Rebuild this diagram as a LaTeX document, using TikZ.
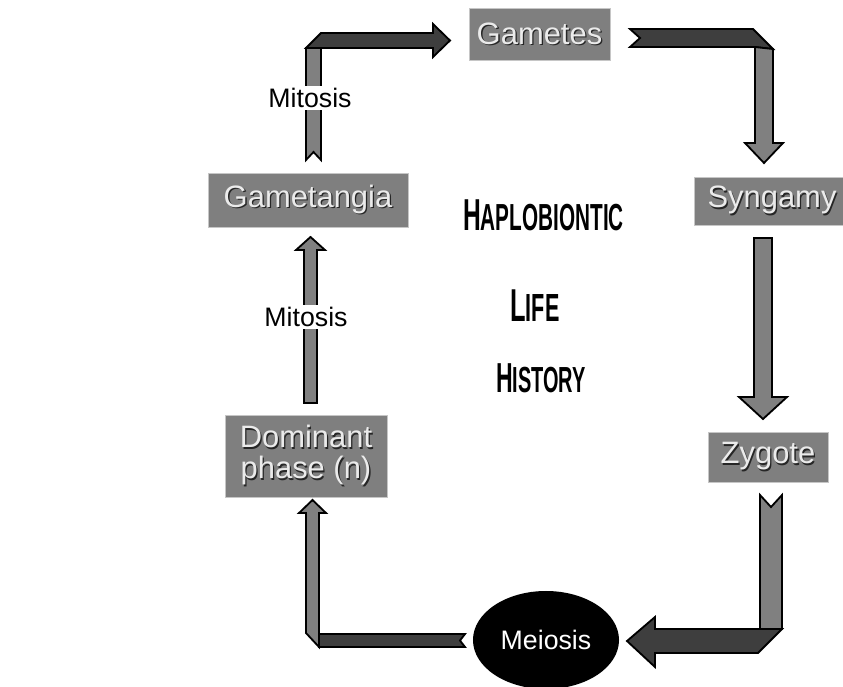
\documentclass[tikz,border=0pt]{standalone}
\usepackage{fontspec}
\setmainfont{Liberation Sans}
\usepackage{graphicx}
\usetikzlibrary{shapes.geometric}
\definecolor{Osc}{RGB}{62,62,62}
\definecolor{Med}{RGB}{128,128,128}
\definecolor{Caja}{RGB}{127,127,127}
% texto con relieve
\newcommand{\relieve}[1]{\leavevmode\rlap{\raisebox{-0.9pt}{\kern0.9pt\textcolor{black!85}{#1}}}\textcolor{white!92!black}{#1}}
% versalitas angostas
\newcommand{\titsc}[4]{\scalebox{0.55}[1]{\bfseries\fontsize{#1}{#1}\selectfont #3\fontsize{#2}{#2}\selectfont #4}}

\begin{document}
\begin{tikzpicture}[x=0.025cm,y=-0.025cm,
    caja/.style={fill=Caja,draw=gray!45,line width=0.5pt,inner sep=0pt,font=\fontsize{22}{22}\selectfont},
    cinta/.style={draw=black,line width=1.3pt,line join=miter},
    rotulo/.style={fill=white,inner sep=1.5pt,font=\fontsize{19}{19}\selectfont}]
    \useasboundingbox (0,0) rectangle (843,686);

    %Flecha Gametangia -> Gametes
    \fill[Med,cinta] (306,160) -- (306,48) -- (321,48) -- (321,160) -- (313.5,152) -- cycle;
    \fill[Osc,cinta] (306,48) -- (321,33) -- (433,33) -- (433,24) -- (450,40.5) -- (433,57) -- (433,48) -- cycle;

    %Flecha Gametes -> Syngamy
    \fill[Osc,cinta] (630,29) -- (753,29) -- (773,49) -- (755,47) -- (630,47) -- (640,38) -- cycle;
    \fill[Med,cinta] (755,47) -- (773,49) -- (773,143) -- (783,143) -- (764,163) -- (745,143) -- (755,143) -- cycle;

    %Flecha Syngamy -> Zygote
    \fill[Med,cinta] (754,238) -- (772,238) -- (772,397) -- (787,397) -- (763,419) -- (739,397) -- (754,397) -- cycle;

    %Flecha Zygote -> Meiosis
    \fill[Med,cinta] (760,495) -- (771,507) -- (782,495) -- (782,629) -- (760,629) -- cycle;
    \fill[Osc,cinta] (655,629) -- (782,629) -- (758,653) -- (655,653) -- (655,667) -- (627,641) -- (655,617) -- cycle;

    %Flecha Meiosis -> Dominant
    \fill[Osc,cinta] (319,634) -- (465,634) -- (460,640.5) -- (465,647) -- (319,647) -- cycle;
    \fill[Med,cinta] (306,633) -- (306,513) -- (299,513) -- (312.5,500) -- (326,513) -- (319,513) -- (319,647) -- cycle;

    %Flecha Dominant -> Gametangia
    \fill[Med,cinta] (304,403) -- (304,250) -- (296,250) -- (310.5,237) -- (325,250) -- (317,250) -- (317,403) -- cycle;

    %Cajas
    \node[caja,minimum width=3.525cm,minimum height=1.3cm] (gametos) at (539.5,34) {\relieve{Gametes}};
    \node[caja,minimum width=5cm,minimum height=1.35cm] (gametangia) at (308,200) {\relieve{Gametangia}};
    \node[caja,minimum width=3.875cm,minimum height=1.2cm] (singamia) at (772,201) {\relieve{Syngamy}};
    \node[caja,minimum width=3cm,minimum height=1.25cm] (cigoto) at (768,457) {\relieve{Zygote}};
    \node[caja,minimum width=4.05cm,minimum height=2.05cm,align=center] (dominante) at (306,456) {\relieve{Dominant}\\\relieve{phase (n)}};
    \node[ellipse,fill=black,inner sep=0pt,minimum width=3.65cm,minimum height=2.45cm,text=white,font=\fontsize{19}{19}\selectfont] (meiosis) at (546,640) {Meiosis};

    %Rotulos de mitosis
    \node[rotulo] (mitosis1) at (310,98) {Mitosis};
    \node[rotulo] (mitosis2) at (306,317) {Mitosis};

    %Titulo central
    \node[anchor=base] (haplo) at (543.5,230) {\titsc{31.8}{26.8}{H}{APLOBIONTIC}};
    \node[anchor=base] (vida) at (535,321) {\titsc{32.8}{27.9}{L}{IFE}};
    \node[anchor=base] (historia) at (541,392) {\titsc{29.8}{25.8}{H}{ISTORY}};
\end{tikzpicture}
\end{document}
